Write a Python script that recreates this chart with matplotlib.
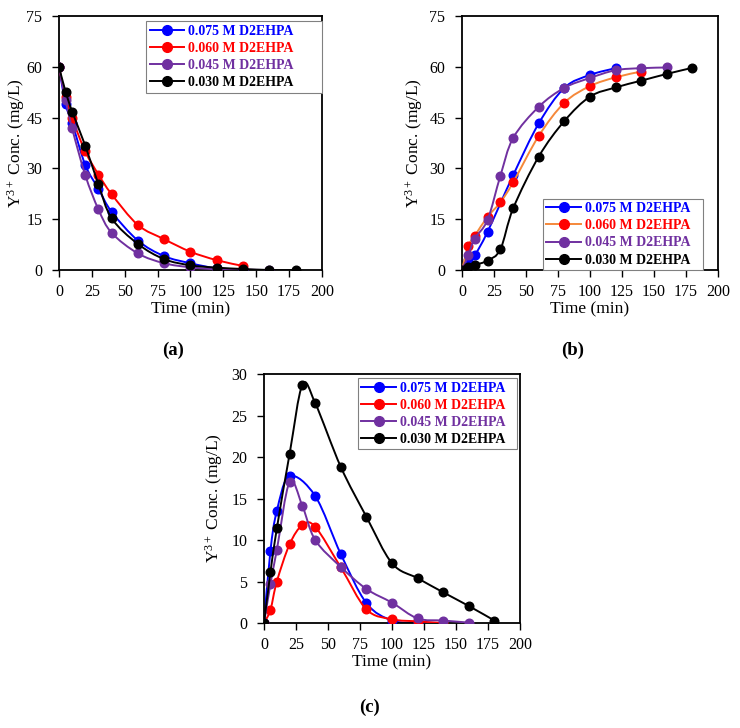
import numpy as np
import matplotlib
matplotlib.use("Agg")
import matplotlib.pyplot as plt
from matplotlib.path import Path
from matplotlib.patches import PathPatch
from matplotlib.lines import Line2D

plt.rcParams['font.family'] = ['Liberation Serif', 'DejaVu Serif']
plt.rcParams['mathtext.fontset'] = 'custom'
plt.rcParams['mathtext.rm'] = 'Liberation Serif'
plt.rcParams['mathtext.it'] = 'Liberation Serif:italic'

labels = ['0.075 M D2EHPA', '0.060 M D2EHPA', '0.045 M D2EHPA', '0.030 M D2EHPA']

# (a) raffinate concentration
a_t = [
    [0, 5, 10, 20, 30, 40, 60, 80, 100, 120, 140],
    [0, 5, 10, 20, 30, 40, 60, 80, 100, 120, 140],
    [0, 5, 10, 20, 30, 40, 60, 80, 100, 120, 140, 160],
    [0, 5, 10, 20, 30, 40, 60, 80, 100, 120, 140, 160, 180],
]
a_y = [
    [60, 49, 43.5, 31, 24, 17.2, 8.7, 4.1, 2.0, 0.5, 0.2],
    [60, 51, 44.8, 35, 28.2, 22.4, 13.3, 9.1, 5.4, 2.9, 1.2],
    [60, 50.2, 41.8, 28, 17.9, 11, 4.9, 2.0, 0.8, 0.2, 0.1, 0.0],
    [60, 52.7, 46.8, 36.7, 25.3, 15.3, 7.7, 3.2, 1.4, 0.7, 0.3, 0.0, 0.0],
]

# (b) stripped concentration
b_t = [
    [0, 5, 10, 20, 40, 60, 80, 100, 120],
    [0, 5, 10, 20, 30, 40, 60, 80, 100, 120, 140],
    [0, 5, 10, 20, 30, 40, 60, 80, 100, 120, 140, 160],
    [0, 5, 10, 20, 30, 40, 60, 80, 100, 120, 140, 160, 180],
]
b_y = [
    [0, 3.0, 4.4, 11.3, 28, 43.3, 53.8, 57.6, 59.6],
    [0, 7.1, 10.1, 15.7, 20, 25.9, 39.6, 49.4, 54.3, 56.9, 58.6],
    [0, 4.4, 9.3, 14.8, 27.8, 39, 48.2, 53.8, 56.7, 59, 59.6, 59.8],
    [0, 1.0, 1.5, 2.8, 6.1, 18.2, 33.5, 44, 51.2, 53.9, 55.9, 57.9, 59.7],
]

# (c) loaded organic concentration
c_t = [
    [0, 5, 10, 20, 40, 60, 80, 100, 120],
    [0, 5, 10, 20, 30, 40, 60, 80, 100, 120, 140],
    [0, 5, 10, 20, 30, 40, 60, 80, 100, 120, 140, 160],
    [0, 5, 10, 20, 30, 40, 60, 80, 100, 120, 140, 160, 180],
]
c_y = [
    [0, 8.7, 13.5, 17.7, 15.3, 8.3, 2.4, 0.3, 0.0],
    [0, 1.6, 5.0, 9.5, 11.8, 11.6, 6.7, 1.65, 0.45, 0.2, 0.0],
    [0, 4.7, 8.8, 17.0, 14.1, 10.0, 6.75, 4.1, 2.45, 0.55, 0.3, 0.05],
    [0, 6.1, 11.4, 20.4, 28.7, 26.5, 18.8, 12.8, 7.2, 5.4, 3.7, 2.05, 0.3],
]

marker_colors = ['#0000FF', '#FF0000', '#7030A0', '#000000']
line_a = ['#0000FF', '#FF0000', '#7030A0', '#000000']
line_b = ['#0000FF', '#F5883A', '#7030A0', '#000000']
text_colors = ['#0000FF', '#FF0000', '#7030A0', '#000000']


def smooth_path(x, y):
    """Excel-like smoothed line as a cubic Bezier path through the points."""
    p = np.column_stack([x, y]).astype(float)
    n = len(p)
    verts = [p[0]]
    codes = [Path.MOVETO]
    for i in range(n - 1):
        p0 = p[i - 1] if i > 0 else p[i]
        p3 = p[i + 2] if i + 2 < n else p[i + 1]
        c1 = p[i] + (p[i + 1] - p0) / 6.0
        c2 = p[i + 1] - (p3 - p[i]) / 6.0
        verts += [c1, c2, p[i + 1]]
        codes += [Path.CURVE4] * 3
    return Path(verts, codes)


def draw_panel(ax, ts, ys, lcolors, ymax, ystep, legend_loc, legend_box,
               ylabel_x):
    for k in range(4):
        patch = PathPatch(smooth_path(ts[k], ys[k]), facecolor='none',
                          edgecolor=lcolors[k], lw=1.4, zorder=2 + 2 * k)
        ax.add_patch(patch)
        ax.plot(ts[k], ys[k], ls='none', marker='o', ms=6.2,
                color=marker_colors[k], zorder=3 + 2 * k)
    ax.set_xlim(0, 200)
    ax.set_ylim(0, ymax)
    ax.set_xticks(np.arange(0, 201, 25))
    ax.set_yticks(np.arange(0, ymax + 0.1, ystep))
    ax.tick_params(direction='out', length=5, width=1, labelsize=11.5)
    ax.tick_params(axis='x', pad=5)
    ax.tick_params(axis='y', pad=7)
    for s in ax.spines.values():
        s.set_linewidth(1.3)
    ax.set_xlabel('Time (min)', fontsize=12.5, labelpad=1)
    ax.set_ylabel(r'Y$^{3+}$ Conc. (mg/L)', fontsize=12.5)
    ax.yaxis.set_label_coords(ylabel_x, 0.5)
    handles = [Line2D([0], [0], color=lcolors[k], lw=1.4, marker='o', ms=7,
                      markerfacecolor=marker_colors[k],
                      markeredgecolor=marker_colors[k]) for k in range(4)]
    leg = ax.legend(handles, labels, loc=legend_loc,
                    bbox_to_anchor=legend_box, mode='expand',
                    fancybox=False, edgecolor='#808080', framealpha=1,
                    borderpad=0.25, labelspacing=0.3, handlelength=2.5,
                    handletextpad=0.3, borderaxespad=0,
                    prop={'family': 'Liberation Serif', 'weight': 'bold',
                          'size': 10})
    leg.get_frame().set_linewidth(0.8)
    for txt, c in zip(leg.get_texts(), text_colors):
        txt.set_color(c)
    leg.set_zorder(20)


fig = plt.figure(figsize=(7.4, 7.28), dpi=100)

ax_a = fig.add_axes([0.0797, 0.6291, 0.3554, 0.3489])
draw_panel(ax_a, a_t, a_y, line_a, 75, 15, 'upper left',
           (0.331, 0.713, 0.669, 0.267), -0.122)

ax_b = fig.add_axes([0.6243, 0.6291, 0.3459, 0.3489])
draw_panel(ax_b, b_t, b_y, line_b, 75, 15, 'lower left',
           (0.316, 0.0, 0.625, 0.287), -0.145)

ax_c = fig.add_axes([0.3568, 0.1442, 0.3459, 0.342])
draw_panel(ax_c, c_t, c_y, line_a, 30, 5, 'upper left',
           (0.367, 0.72, 0.621, 0.264), -0.152)

fig.text(173 / 740, 1 - 350 / 728, '(a)', ha='center', va='center',
         fontsize=13.5, fontweight='bold')
fig.text(573 / 740, 1 - 350 / 728, '(b)', ha='center', va='center',
         fontsize=13.5, fontweight='bold')
fig.text(370 / 740, 1 - 707 / 728, '(c)', ha='center', va='center',
         fontsize=13.5, fontweight='bold')

fig.savefig('out.png', dpi=100, facecolor='white')
